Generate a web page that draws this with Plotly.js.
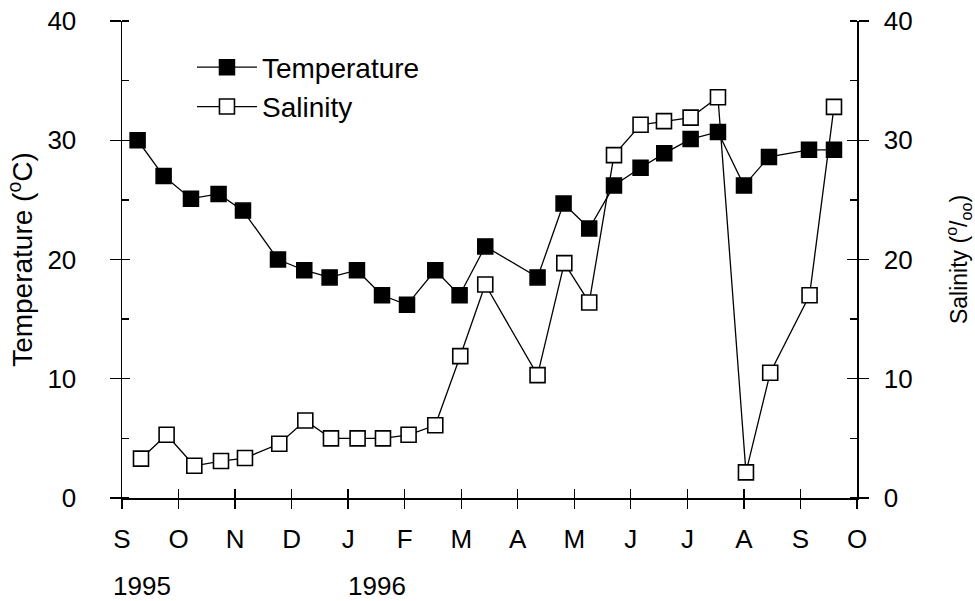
<!DOCTYPE html>
<html>
<head>
<meta charset="utf-8">
<script src="https://cdn.plot.ly/plotly-3.0.1.min.js"></script>
<style>html,body{margin:0;padding:0;background:#fff;}#chart{width:975px;height:601px;}</style>
</head>
<body>
<div id="chart"></div>
<script>
// Month index: 0 = Sep 1995 ... 13 = Oct 1996
var monthLabels = ["S","O","N","D","J","F","M","A","M","J","J","A","S","O"];
var monthTicks = [0,1,2,3,4,5,6,7,8,9,10,11,12,13];

var tempMonth = [0.276,0.736,1.220,1.708,2.140,2.759,3.224,3.672,4.156,4.599,5.041,5.541,5.971,6.425,7.350,7.810,8.264,8.702,9.172,9.591,10.057,10.541,11.001,11.443,12.151,12.593];
var temperature = [30.0,27.0,25.1,25.5,24.1,20.0,19.1,18.5,19.1,17.0,16.2,19.1,17.0,21.1,18.5,24.7,22.6,26.2,27.7,28.9,30.1,30.7,26.2,28.6,29.2,29.2];

var salMonth = [0.336,0.789,1.279,1.751,2.175,2.782,3.242,3.696,4.167,4.616,5.069,5.541,5.983,6.425,7.350,7.823,8.264,8.702,9.172,9.586,10.057,10.541,11.036,11.465,12.161,12.593];
var salinity = [3.3,5.3,2.7,3.1,3.35,4.55,6.5,5.0,5.0,5.0,5.3,6.1,11.9,17.9,10.3,19.7,16.4,28.75,31.3,31.6,31.9,33.6,2.15,10.5,17.0,32.8];

var yearLabels = ["1995","1996"];
var yearAt = [0,4];

var FONT = "Liberation Sans, Arial, sans-serif";
var fs = 26;

var traces = [
  {x: tempMonth, y: temperature, name: "Temperature", type: "scatter", mode: "lines+markers",
   line: {color: "#000", width: 1.3},
   marker: {symbol: "square", size: 15, color: "#000", line: {color: "#000", width: 1.5}},
   xaxis: "x", yaxis: "y"},
  {x: salMonth, y: salinity, name: "Salinity", type: "scatter", mode: "lines+markers",
   line: {color: "#000", width: 1.3},
   marker: {symbol: "square", size: 15, color: "#fff", line: {color: "#000", width: 1.6}},
   xaxis: "x", yaxis: "y2"}
];

var common = {range: [0, 40], showgrid: false, zeroline: false, fixedrange: true};

var layout = {
  width: 975, height: 601,
  margin: {l: 122, r: 118, t: 21, b: 103, pad: 0},
  paper_bgcolor: "#fff", plot_bgcolor: "#fff",
  font: {family: FONT, size: fs, color: "#000"},
  showlegend: true,
  legend: {x: 0.0952, y: 0.955, xanchor: "left", yanchor: "top", bgcolor: "rgba(0,0,0,0)",
           font: {family: FONT, size: 28, color: "#000"}, itemwidth: 60, tracegroupgap: 0},
  xaxis: {range: [0, 13], tickvals: monthTicks, ticktext: monthLabels, ticks: "outside", ticklen: 9,
          tickwidth: 1.3, tickcolor: "#000", showline: true, linecolor: "#000", linewidth: 1.5,
          showgrid: false, zeroline: false, ticklabelstandoff: 8, tickfont: {size: fs}},
  xaxis2: {range: [0, 13], overlaying: "x", anchor: "y", side: "bottom", tickvals: monthTicks,
          ticks: "inside", ticklen: 9, tickwidth: 1.3, tickcolor: "#000", showticklabels: false,
          showline: false, showgrid: false, zeroline: false},
  yaxis: Object.assign({}, common, {dtick: 10, tick0: 0, ticks: "outside", ticklen: 11, tickwidth: 1.3,
          tickcolor: "#000", showline: true, linecolor: "#000", linewidth: 1.5, ticklabelstandoff: 28,
          tickfont: {size: fs},
          minor: {dtick: 5, ticks: "inside", ticklen: 7, tickwidth: 1.3, tickcolor: "#000"},
          title: {text: "Temperature (<sup>o</sup>C)", font: {size: 28}, standoff: 6}}),
  yaxis2: Object.assign({}, common, {overlaying: "y", side: "right", anchor: "x", dtick: 10, tick0: 0,
          ticks: "outside", ticklen: 10, tickwidth: 1.3, tickcolor: "#000", showline: true, linecolor: "#000",
          linewidth: 1.5, ticklabelstandoff: 10, tickfont: {size: fs},
          minor: {dtick: 5, ticks: "inside", ticklen: 7, tickwidth: 1.3, tickcolor: "#000"},
          title: {text: "Salinity (<sup>o</sup>/<sub>oo</sub>)", font: {size: 23}, standoff: 46}}),
  yaxis3: Object.assign({}, common, {overlaying: "y", side: "left", anchor: "x", dtick: 10, tick0: 0,
          ticks: "inside", ticklen: 8, tickwidth: 1.3, tickcolor: "#000", showticklabels: false, showline: false}),
  yaxis4: Object.assign({}, common, {overlaying: "y", side: "right", anchor: "x", dtick: 10, tick0: 0,
          ticks: "inside", ticklen: 10, tickwidth: 1.3, tickcolor: "#000", showticklabels: false, showline: false}),
  annotations: yearLabels.map(function (t, i) {
    return {text: t, xref: "x", x: yearAt[i], yref: "paper", y: -0.184, xanchor: "left", yanchor: "middle",
            xshift: i === 0 ? -11 : -2, showarrow: false, font: {family: FONT, size: fs, color: "#000"}};
  })
};

// invisible helper traces so the overlay axes (cross ticks) are drawn
traces.push({x: [0], y: [0], xaxis: "x2", yaxis: "y3", mode: "markers", marker: {opacity: 0}, showlegend: false, hoverinfo: "skip"});
traces.push({x: [0], y: [0], xaxis: "x", yaxis: "y4", mode: "markers", marker: {opacity: 0}, showlegend: false, hoverinfo: "skip"});

Plotly.newPlot("chart", traces, layout, {staticPlot: true, displayModeBar: false});
</script>
</body>
</html>
